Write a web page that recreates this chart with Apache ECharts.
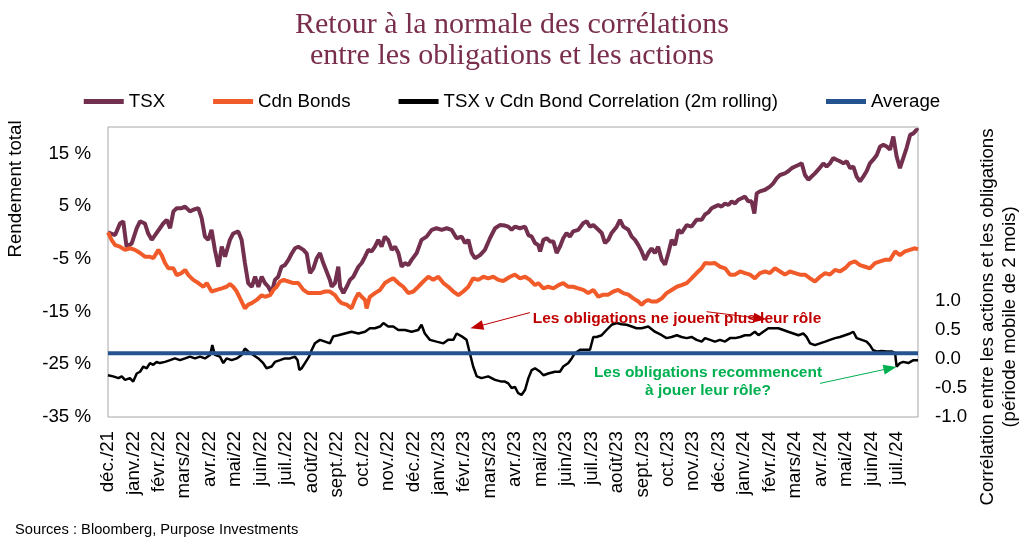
<!DOCTYPE html>
<html>
<head>
<meta charset="utf-8">
<script src="https://cdn.jsdelivr.net/npm/echarts@6/dist/echarts.min.js"></script>
<style>
html,body{margin:0;padding:0;background:#fff;}
#chart{width:1024px;height:554px;}
</style>
</head>
<body>
<div id="chart"></div>
<script>
// x values: months elapsed since 1 Dec 2021 (0 = déc./21)
const monthLabels = ['déc./21','janv./22','févr./22','mars/22','avr./22','mai/22','juin/22','juil./22','août/22','sept./22','oct./22','nov./22','déc./22','janv./23','févr./23','mars/23','avr./23','mai/23','juin/23','juil./23','août/23','sept./23','oct./23','nov./23','déc./23','janv./24','févr./24','mars/24','avr./24','mai/24','juin/24','juil./24'];
const leftTicks = [-35,-25,-15,-5,5,15];
const rightTicks = [-1.0,-0.5,0.0,0.5,1.0];

// TSX total return (%)
const tsx = [[0,0],[0.28,-0.5],[0.47,1.7],[0.6,2.1],[0.73,-2.7],[0.93,-2.1],[1.13,0.8],[1.26,2.1],[1.45,1.7],[1.58,-0.2],[1.72,-1.4],[1.85,-0.5],[2.04,0.8],[2.17,1.7],[2.31,2.4],[2.44,0.8],[2.57,4.0],[2.7,4.6],[2.89,4.6],[3.03,4.9],[3.22,4.0],[3.35,4.3],[3.55,4.6],[3.68,2.7],[3.81,-0.8],[3.94,-1.4],[4.07,0.5],[4.2,-3.3],[4.34,-6.5],[4.47,-2.7],[4.6,-4.6],[4.79,-1.4],[4.92,-0.2],[5.12,0.2],[5.25,-1.4],[5.38,-5.8],[5.51,-9.6],[5.65,-10.3],[5.78,-8.4],[5.91,-10.3],[6.04,-8.4],[6.17,-9.6],[6.3,-10.3],[6.43,-11.5],[6.56,-9.0],[6.69,-8.4],[6.82,-6.5],[6.95,-6.2],[7.09,-5.2],[7.22,-4.0],[7.35,-3.0],[7.48,-2.7],[7.68,-3.3],[7.81,-4.0],[7.94,-7.7],[8.07,-6.8],[8.2,-4.9],[8.33,-3.9],[8.46,-5.8],[8.59,-7.4],[8.72,-9.0],[8.79,-10.3],[8.92,-9.6],[9.05,-6.5],[9.12,-10.3],[9.25,-11.5],[9.38,-10.3],[9.51,-9.0],[9.64,-8.4],[9.84,-6.5],[9.97,-5.8],[10.1,-4.6],[10.23,-3.3],[10.36,-3.6],[10.49,-2.7],[10.62,-1.4],[10.75,-2.7],[10.88,-0.8],[11.01,-1.4],[11.15,-3.3],[11.28,-2.7],[11.41,-3.9],[11.54,-6.5],[11.67,-5.8],[11.8,-6.2],[11.93,-5.2],[12.13,-3.9],[12.32,-1.4],[12.52,-0.8],[12.72,0.5],[12.91,0.8],[13.11,0.5],[13.31,0.8],[13.5,0.5],[13.7,-1.1],[13.9,-0.8],[14.03,-2.0],[14.16,-1.4],[14.29,-3.9],[14.42,-4.9],[14.62,-4.3],[14.81,-3.3],[15.01,-1.1],[15.21,0.8],[15.4,1.4],[15.6,1.3],[15.73,1.1],[15.86,0.5],[15.99,1.1],[16.19,0.8],[16.39,1.1],[16.52,-0.5],[16.65,-0.8],[16.78,-2.0],[16.91,-2.4],[16.98,-3.6],[17.11,-1.4],[17.24,-1.1],[17.37,-1.7],[17.5,-1.7],[17.63,-3.9],[17.76,-2.7],[17.89,-1.1],[18.02,-0.1],[18.15,-0.8],[18.28,0.2],[18.48,0.5],[18.68,1.8],[18.81,2.1],[18.94,1.1],[19.07,1.4],[19.27,0.5],[19.4,-0.1],[19.53,-2.0],[19.66,-1.4],[19.79,-0.1],[19.99,1.1],[20.12,2.4],[20.25,1.1],[20.45,0.5],[20.58,-0.8],[20.71,-1.4],[20.84,-2.4],[20.97,-3.6],[21.1,-5.2],[21.23,-3.9],[21.36,-3.0],[21.49,-3.9],[21.62,-2.7],[21.76,-5.2],[21.89,-6.1],[22.02,-3.9],[22.15,-1.4],[22.28,-2.4],[22.41,0.5],[22.54,-0.1],[22.74,1.4],[22.93,1.1],[23.13,2.4],[23.33,2.4],[23.46,3.4],[23.59,3.8],[23.72,4.6],[23.85,4.9],[23.98,5.2],[24.11,4.9],[24.25,5.5],[24.38,5.2],[24.51,5.9],[24.64,5.5],[24.77,6.2],[24.9,6.5],[25.03,6.8],[25.16,5.9],[25.29,5.9],[25.4,3.6],[25.49,7.4],[25.62,7.8],[25.82,8.1],[26.01,8.7],[26.14,9.3],[26.28,10.3],[26.41,10.9],[26.6,11.2],[26.73,11.6],[26.87,12.2],[27.0,12.5],[27.13,12.8],[27.26,13.1],[27.39,10.9],[27.52,10.0],[27.65,10.6],[27.78,11.2],[27.91,11.9],[28.11,13.1],[28.24,12.5],[28.37,13.1],[28.5,14.1],[28.63,13.8],[28.76,13.5],[28.9,13.1],[29.03,13.5],[29.16,12.2],[29.29,12.5],[29.42,10.6],[29.55,9.7],[29.68,10.6],[29.81,11.6],[29.94,13.1],[30.07,13.8],[30.21,14.7],[30.34,16.3],[30.47,16.6],[30.6,16.3],[30.73,15.7],[30.86,18.2],[30.99,14.4],[31.12,12.2],[31.25,14.1],[31.38,16.0],[31.52,18.5],[31.65,18.8],[31.78,19.5],[31.83,19.3]];

// Canadian bonds total return (%)
const bonds = [[0,0],[0.14,-1.4],[0.28,-2.4],[0.47,-2.7],[0.67,-3.3],[0.86,-3.0],[1.06,-3.3],[1.26,-3.9],[1.45,-4.6],[1.65,-4.6],[1.78,-4.9],[1.98,-3.3],[2.11,-4.3],[2.24,-5.8],[2.37,-6.8],[2.57,-6.8],[2.7,-8.1],[2.89,-7.7],[3.03,-7.1],[3.16,-8.1],[3.35,-9.0],[3.55,-9.6],[3.75,-10.3],[3.88,-9.6],[4.07,-11.2],[4.27,-10.9],[4.47,-10.6],[4.66,-10.3],[4.79,-9.8],[4.92,-10.3],[5.06,-11.2],[5.19,-12.5],[5.38,-14.4],[5.51,-13.7],[5.65,-13.4],[5.84,-12.8],[6.04,-11.9],[6.17,-12.2],[6.37,-11.9],[6.5,-10.9],[6.63,-10.3],[6.76,-9.3],[6.9,-9.0],[7.09,-9.3],[7.28,-9.6],[7.48,-9.6],[7.68,-10.9],[7.87,-11.5],[8.13,-11.5],[8.33,-11.5],[8.53,-11.2],[8.72,-11.2],[8.92,-11.9],[9.05,-12.8],[9.18,-13.4],[9.38,-13.7],[9.57,-14.4],[9.7,-12.8],[9.84,-11.5],[9.97,-12.2],[10.1,-12.8],[10.16,-14.4],[10.29,-12.2],[10.49,-11.5],[10.69,-10.9],[10.88,-9.6],[11.08,-9.0],[11.21,-8.7],[11.41,-9.6],[11.6,-10.3],[11.8,-11.5],[12.0,-11.2],[12.19,-10.3],[12.39,-9.3],[12.59,-8.4],[12.78,-9.0],[12.98,-8.4],[13.18,-9.6],[13.37,-10.3],[13.57,-11.2],[13.77,-11.9],[13.96,-11.2],[14.16,-10.3],[14.35,-8.7],[14.55,-9.0],[14.75,-8.4],[14.94,-8.7],[15.14,-8.4],[15.34,-9.0],[15.53,-9.2],[15.8,-8.4],[15.99,-8.0],[16.19,-8.7],[16.39,-8.4],[16.58,-9.0],[16.78,-10.0],[16.91,-9.6],[17.11,-10.6],[17.3,-10.3],[17.5,-10.6],[17.7,-10.0],[17.89,-9.6],[18.09,-10.3],[18.28,-10.3],[18.48,-10.6],[18.68,-10.9],[18.87,-11.5],[19.07,-10.9],[19.27,-12.2],[19.46,-11.8],[19.66,-11.8],[19.86,-11.2],[20.05,-10.9],[20.25,-11.5],[20.45,-11.8],[20.64,-12.5],[20.84,-13.1],[20.97,-13.7],[21.1,-13.1],[21.23,-12.8],[21.36,-13.1],[21.56,-13.1],[21.76,-12.5],[21.95,-11.5],[22.15,-10.9],[22.35,-10.3],[22.54,-10.0],[22.74,-9.6],[22.93,-8.7],[23.13,-7.7],[23.33,-6.8],[23.46,-5.8],[23.66,-5.9],[23.85,-5.8],[24.05,-6.5],[24.25,-6.8],[24.44,-8.0],[24.64,-8.0],[24.84,-7.4],[25.03,-7.7],[25.23,-8.0],[25.42,-8.7],[25.62,-7.7],[25.82,-7.4],[26.01,-7.7],[26.21,-6.8],[26.41,-7.4],[26.6,-8.0],[26.8,-7.4],[27.0,-7.7],[27.19,-8.0],[27.39,-8.0],[27.59,-8.7],[27.78,-9.3],[27.98,-8.4],[28.18,-7.7],[28.37,-8.0],[28.57,-7.1],[28.76,-7.4],[28.96,-6.8],[29.16,-5.8],[29.35,-5.5],[29.55,-6.2],[29.75,-6.5],[29.94,-6.8],[30.14,-5.8],[30.34,-5.5],[30.53,-5.2],[30.73,-5.2],[30.93,-3.6],[31.12,-4.3],[31.32,-3.6],[31.51,-3.3],[31.71,-3.0],[31.83,-3.2]];

// TSX v Cdn Bond correlation (2m rolling)
const correl = [[0,-0.28],[0.2,-0.3],[0.41,-0.33],[0.54,-0.3],[0.67,-0.36],[0.86,-0.33],[0.99,-0.39],[1.13,-0.25],[1.26,-0.22],[1.39,-0.13],[1.52,-0.16],[1.65,-0.07],[1.78,-0.1],[1.91,-0.05],[2.04,-0.07],[2.24,-0.05],[2.44,-0.02],[2.63,0.01],[2.83,-0.02],[3.03,0.01],[3.22,0.04],[3.42,0.01],[3.62,0.04],[3.81,0.01],[4.01,0.07],[4.1,0.24],[4.2,0.07],[4.4,0.04],[4.53,-0.07],[4.66,0.01],[4.86,-0.02],[5.06,0.01],[5.25,0.07],[5.38,0.18],[5.51,0.13],[5.71,0.07],[5.91,0.01],[6.1,-0.07],[6.23,-0.16],[6.43,-0.13],[6.56,-0.05],[6.76,-0.02],[6.95,0.01],[7.15,0.01],[7.35,0.04],[7.45,-0.02],[7.52,-0.19],[7.61,-0.16],[7.74,-0.07],[7.9,0.04],[8.0,0.15],[8.13,0.27],[8.33,0.33],[8.53,0.3],[8.72,0.27],[8.85,0.39],[9.05,0.41],[9.31,0.44],[9.57,0.47],[9.84,0.44],[10.1,0.47],[10.29,0.53],[10.49,0.53],[10.69,0.56],[10.82,0.62],[11.01,0.56],[11.21,0.56],[11.41,0.5],[11.67,0.5],[11.93,0.47],[12.19,0.5],[12.32,0.59],[12.45,0.44],[12.65,0.33],[12.91,0.3],[13.18,0.27],[13.37,0.33],[13.57,0.33],[13.7,0.44],[13.9,0.39],[14.09,0.33],[14.22,0.1],[14.35,-0.13],[14.49,-0.3],[14.68,-0.33],[14.94,-0.3],[15.21,-0.36],[15.47,-0.39],[15.6,-0.39],[15.73,-0.42],[15.86,-0.5],[15.99,-0.48],[16.12,-0.59],[16.25,-0.62],[16.39,-0.53],[16.52,-0.33],[16.65,-0.19],[16.78,-0.16],[16.98,-0.22],[17.11,-0.28],[17.3,-0.25],[17.56,-0.22],[17.76,-0.22],[17.89,-0.13],[18.09,-0.07],[18.22,0.01],[18.35,0.1],[18.55,0.16],[18.81,0.16],[18.94,0.16],[19.07,0.38],[19.2,0.38],[19.4,0.41],[19.59,0.5],[19.79,0.59],[19.99,0.62],[20.18,0.6],[20.38,0.59],[20.58,0.56],[20.77,0.53],[20.97,0.53],[21.23,0.56],[21.49,0.47],[21.76,0.41],[21.95,0.36],[22.15,0.38],[22.35,0.41],[22.54,0.38],[22.74,0.36],[22.93,0.38],[23.13,0.33],[23.33,0.3],[23.46,0.36],[23.66,0.33],[23.85,0.3],[24.05,0.33],[24.25,0.3],[24.44,0.36],[24.64,0.36],[24.84,0.38],[25.03,0.41],[25.23,0.41],[25.42,0.47],[25.56,0.41],[25.75,0.47],[25.95,0.53],[26.14,0.53],[26.34,0.53],[26.54,0.5],[26.73,0.47],[26.93,0.44],[27.13,0.41],[27.32,0.44],[27.45,0.38],[27.59,0.27],[27.78,0.24],[27.98,0.27],[28.18,0.3],[28.37,0.33],[28.57,0.36],[28.76,0.38],[28.96,0.41],[29.16,0.44],[29.29,0.47],[29.42,0.36],[29.62,0.33],[29.81,0.3],[29.94,0.24],[30.07,0.15],[30.21,0.13],[30.4,0.14],[30.6,0.13],[30.8,0.13],[30.93,0.1],[30.99,-0.13],[31.12,-0.07],[31.25,-0.05],[31.45,-0.07],[31.65,-0.02],[31.83,-0.02]];

// Average correlation
const averageValue = 0.1;
const averageSpan = [0, 31.83];

const FONT = "'Liberation Sans', Arial, sans-serif";
const chart = echarts.init(document.getElementById('chart'), null, {renderer:'canvas'});

const option = {
  animation: false,
  backgroundColor: '#ffffff',
  textStyle: {fontFamily: FONT},
  title: {
    text: 'Retour à la normale des corrélations\nentre les obligations et les actions',
    left: 'center',
    top: 5,
    textStyle: {fontFamily: "'Liberation Serif', 'Times New Roman', serif", fontSize: 30, lineHeight: 31, fontWeight: 'normal', color: '#7a2e4d'}
  },
  legend: {
    top: 87,
    left: 'center',
    icon: 'rect',
    itemWidth: 40,
    itemHeight: 5,
    itemGap: 48,
    textStyle: {fontSize: 18.7, color: '#000', fontFamily: FONT},
    data: ['TSX', 'Cdn Bonds', 'TSX v Cdn Bond Correlation (2m rolling)', 'Average']
  },
  grid: {
    left: 108, right: 106, top: 127, bottom: 137,
    show: true, borderColor: '#a6a6a6', borderWidth: 1, backgroundColor: 'transparent'
  },
  xAxis: {
    type: 'value', min: 0, max: 31.83, interval: 1,
    axisLine: {show: false}, axisTick: {show: false}, splitLine: {show: false},
    axisLabel: {
      rotate: 90, margin: 14, fontSize: 18.7, color: '#000', fontFamily: FONT,
      showMinLabel: true, showMaxLabel: true,
      formatter: v => (Number.isInteger(v) && monthLabels[v] !== undefined) ? monthLabels[v] : ''
    }
  },
  yAxis: [
    {
      type: 'value', min: -35, max: 20, interval: 5, position: 'left',
      axisLine: {show: false}, axisTick: {show: false}, splitLine: {show: false},
      axisLabel: {
        margin: 17, fontSize: 18.7, color: '#000', fontFamily: FONT,
        formatter: v => leftTicks.includes(Math.round(v)) && Math.abs(v - Math.round(v)) < 1e-6 ? Math.round(v) + ' %' : ''
      }
    },
    {
      type: 'value', min: -1, max: 4, interval: 0.5, position: 'right',
      axisLine: {show: false}, axisTick: {show: false}, splitLine: {show: false},
      axisLabel: {
        margin: 17, fontSize: 18.7, color: '#000', fontFamily: FONT,
        formatter: v => rightTicks.some(t => Math.abs(t - v) < 1e-6) ? (Math.abs(v) < 1e-6 ? '0.0' : v.toFixed(1)) : ''
      }
    }
  ],
  series: [
    {
      name: 'TSX', type: 'line', yAxisIndex: 0, data: tsx, symbol: 'none', showSymbol: false,
      color: '#722f4e', lineStyle: {width: 4, color: '#722f4e'}, z: 2
    },
    {
      name: 'Cdn Bonds', type: 'line', yAxisIndex: 0, data: bonds, symbol: 'none', showSymbol: false,
      color: '#f15a29', lineStyle: {width: 4, color: '#f15a29'}, z: 3
    },
    {
      name: 'TSX v Cdn Bond Correlation (2m rolling)', type: 'line', yAxisIndex: 1, data: correl,
      symbol: 'none', showSymbol: false, color: '#000000', lineStyle: {width: 2.5, color: '#000000'}, z: 4,
      markLine: {
        silent: true, animation: false,
        label: {show: false},
        emphasis: {disabled: true},
        data: [
          [{coord: [16.58, 0.80], symbol: 'none', lineStyle: {color: '#c00000', width: 1, type: 'solid'}},
           {coord: [14.49, 0.557], symbol: 'triangle', symbolSize: [10, 13]}],
          [{coord: [23.52, 0.816], symbol: 'none', lineStyle: {color: '#c00000', width: 1, type: 'solid'}},
           {coord: [25.62, 0.70], symbol: 'triangle', symbolSize: [10, 13]}],
          [{coord: [27.98, -0.42], symbol: 'none', lineStyle: {color: '#00b050', width: 1, type: 'solid'}},
           {coord: [30.73, -0.16], symbol: 'triangle', symbolSize: [10, 13]}]
        ]
      }
    },
    {
      name: 'Average', type: 'line', yAxisIndex: 1,
      data: averageSpan.map(x => [x, averageValue]),
      symbol: 'none', showSymbol: false, color: '#24538f', lineStyle: {width: 4, color: '#24538f'}, z: 5
    }
  ],
  graphic: [
    {type: 'text', x: 16, y: 189, rotation: Math.PI / 2, silent: true,
     style: {text: 'Rendement total', font: "18.7px 'Liberation Sans', Arial, sans-serif", fill: '#000', align: 'center', verticalAlign: 'middle'}},
    {type: 'text', x: 999, y: 317, rotation: Math.PI / 2, silent: true,
     style: {text: 'Corrélation entre les actions et les obligations\n(période mobile de 2 mois)', font: "18.7px 'Liberation Sans', Arial, sans-serif", lineHeight: 22, fill: '#000', align: 'center', verticalAlign: 'middle'}},
    {type: 'text', x: 15, y: 530, silent: true,
     style: {text: 'Sources : Bloomberg, Purpose Investments', font: "14.7px 'Liberation Sans', Arial, sans-serif", fill: '#000', align: 'left', verticalAlign: 'middle'}},
    {type: 'text', x: 677, y: 319, silent: true, z: 10,
     style: {text: 'Les obligations ne jouent plus leur rôle', font: "bold 15.5px 'Liberation Sans', Arial, sans-serif", fill: '#c00000', align: 'center', verticalAlign: 'middle'}},
    {type: 'text', x: 708, y: 382, silent: true, z: 10,
     style: {text: 'Les obligations recommencent\nà jouer leur rôle?', font: "bold 15.5px 'Liberation Sans', Arial, sans-serif", lineHeight: 18, fill: '#00b050', align: 'center', verticalAlign: 'middle'}}
  ]
};
chart.setOption(option);
</script>
</body>
</html>
